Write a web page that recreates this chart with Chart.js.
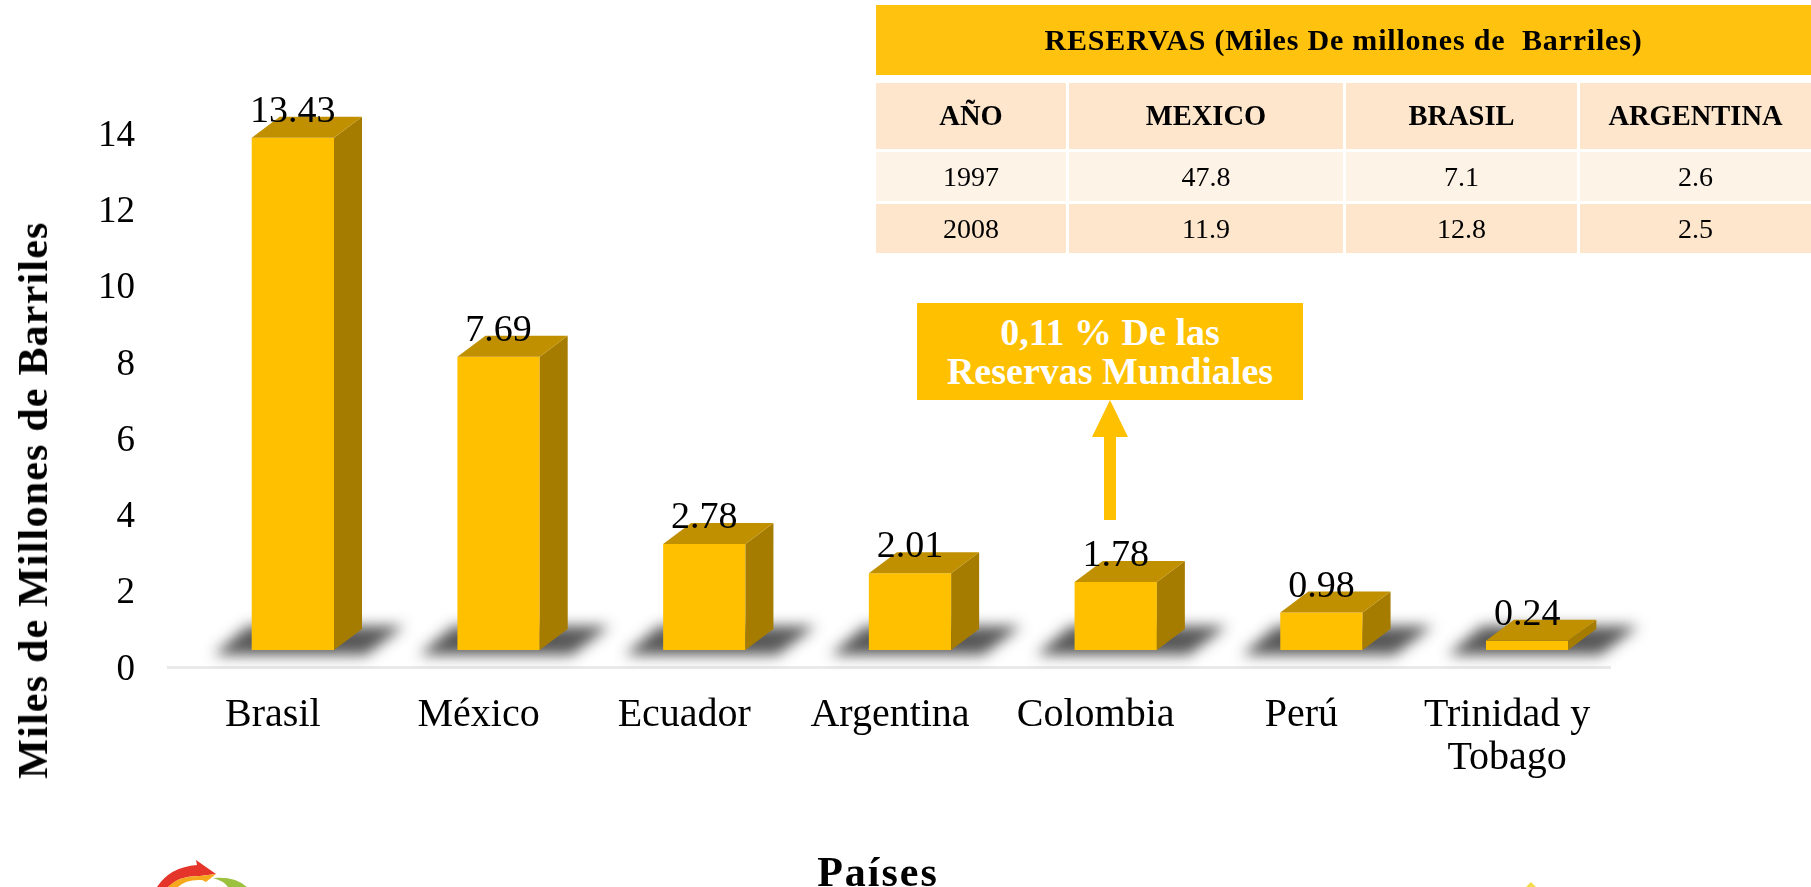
<!DOCTYPE html>
<html>
<head>
<meta charset="utf-8">
<style>
    html, body { margin: 0; padding: 0; background: #fff; overflow: hidden; }
    body { width: 1811px; height: 887px; position: relative; font-family: "Liberation Serif", serif; color: #000; }
    canvas { position: absolute; left: 0; top: 0; }
    .label { position: absolute; font-weight: bold; white-space: nowrap; }
    #yTitle { left: 33px; top: 500px; font-size: 42px; letter-spacing: 1.2px; transform: translate(-50%, -50%) rotate(-90deg); }
    #xTitle { left: 878px; top: 872px; font-size: 42px; letter-spacing: 2px; transform: translate(-50%, -50%); }
    #callout { position: absolute; left: 917px; top: 303px; width: 386px; height: 97px; background: #FFC000; color: #fff; font-weight: bold; font-size: 38px; line-height: 39px; text-align: center; display: flex; align-items: center; justify-content: center; }
    #arrow { position: absolute; left: 1092px; top: 400px; }
    #logoA { position: absolute; left: 150px; top: 855px; }
    #logoB { position: absolute; left: 1510px; top: 875px; }
    #reservas { position: absolute; left: 876px; top: 5px; width: 935px; border-collapse: separate; border-spacing: 0; table-layout: fixed; }
    #reservas td, #reservas th { padding: 0; text-align: center; border-left: 3px solid #fff; border-top: 3px solid #fff; }
    #reservas tr > :first-child { border-left: 0; }
    #reservas .head { background: #FFC20E; height: 70px; font-size: 30px; letter-spacing: 0.8px; border-top: 0; }
    #reservas .spacer td { height: 5px; border: 0; }
    #reservas .cols th { background: #FDE6CC; height: 66px; font-size: 28.5px; }
    #reservas .odd td { background: #FEF3E7; height: 49px; font-size: 28px; }
    #reservas .even td { background: #FDE6CC; height: 49px; font-size: 28px; }
</style>
</head>
<body>
<canvas id="reservesChart" width="1811" height="887"></canvas>

<div class="label" id="yTitle">Miles de Millones de Barriles</div>
<div class="label" id="xTitle">Países</div>

<table id="reservas"></table>

<div id="callout"><div>0,11 % De las<br>Reservas Mundiales</div></div>
<svg id="arrow" width="36" height="120"><path d="M18 0 L36 37 L24 37 L24 120 L12 120 L12 37 L0 37 Z" fill="#FFC000"/></svg>

<svg id="logoA" width="110" height="32">
    <path d="M7 32 Q20 12 47 10 L46 5 L66 19 L50 21 Q30 20 18 32 Z" fill="#E5352B"/>
    <path d="M18 32 Q28 21 50 21 L66 19 L56 27 L52 25 Q36 24 28 32 Z" fill="#F6A81C"/>
    <path d="M63 23 Q85 21 97 32 L78 32 Q74 26 63 23 Z" fill="#9CC13F"/>
</svg>
<svg id="logoB" width="40" height="12"><path d="M21 7 L26 12 L16 12 Z" fill="#F5DC4A"/></svg>

<script src="https://cdn.jsdelivr.net/npm/chart.js@4/dist/chart.umd.min.js"></script>
<script>
// Chart data
const countries = ['Brasil', 'México', 'Ecuador', 'Argentina', 'Colombia', 'Perú', ['Trinidad y', 'Tobago']];
const reserves = [13.43, 7.69, 2.78, 2.01, 1.78, 0.98, 0.24];
const valueLabels = ['13.43', '7.69', '2.78', '2.01', '1.78', '0.98', '0.24'];
const yTicks = [0, 2, 4, 6, 8, 10, 12, 14];

// Table data
const tableTitle = 'RESERVAS (Miles De millones de  Barriles)';
const tableColumns = ['AÑO', 'MEXICO', 'BRASIL', 'ARGENTINA'];
const years = ['1997', '2008'];
const mexicoReserves = ['47.8', '11.9'];
const brasilReserves = ['7.1', '12.8'];
const argentinaReserves = ['2.6', '2.5'];

const FRONT = '#FFC000';
const TOP = '#C09000';
const SIDE = '#A67C00';
const DEPTH_X = 28;
const DEPTH_Y = 21;
const FLOOR_GAP = 17;
const serif = '"Liberation Serif", serif';

// Build the table
function buildTable() {
    const widths = [190, 277, 234, 234];
    let html = '<colgroup>' + widths.map(w => `<col style="width:${w}px">`).join('') + '</colgroup>';
    html += `<tr><th class="head" colspan="4" style="white-space:pre">${tableTitle}</th></tr>`;
    html += '<tr class="spacer"><td colspan="4"></td></tr>';
    html += '<tr class="cols">' + tableColumns.map(c => `<th>${c}</th>`).join('') + '</tr>';
    years.forEach((y, i) => {
        html += `<tr class="${i % 2 ? 'even' : 'odd'}"><td>${y}</td><td>${mexicoReserves[i]}</td><td>${brasilReserves[i]}</td><td>${argentinaReserves[i]}</td></tr>`;
    });
    document.getElementById('reservas').innerHTML = html;
}

// Blurred floor shadow behind each bar, plus the floor line
const floorPlugin = {
    id: 'floor',
    beforeDatasetsDraw(chart) {
        const { ctx, chartArea, scales } = chart;
        const floorY = scales.y.getPixelForValue(0) + FLOOR_GAP;
        ctx.save();
        ctx.fillStyle = '#EAEAEA';
        ctx.fillRect(chartArea.left - 23, floorY - 1, chartArea.right - chartArea.left + 4, 3);
        chart.getDatasetMeta(0).data.forEach(bar => {
            const left = bar.x - bar.width / 2;
            const right = bar.x + bar.width / 2;
            const bottom = bar.base + 5;
            ctx.save();
            ctx.shadowColor = 'rgba(70,70,70,0.9)';
            ctx.shadowBlur = 14;
            ctx.shadowOffsetX = 3000;
            ctx.fillStyle = '#000';
            ctx.beginPath();
            ctx.moveTo(left - 38 - 3000, bottom);
            ctx.lineTo(left - 4 - 3000, bottom - 29);
            ctx.lineTo(right + 70 - 3000, bottom - 29);
            ctx.lineTo(right + 32 - 3000, bottom);
            ctx.closePath();
            ctx.fill();
            ctx.restore();
        });
        ctx.restore();
    }
};

// Side and top faces of the bars, and the value labels
const bar3dPlugin = {
    id: 'bar3d',
    afterDatasetsDraw(chart) {
        const { ctx } = chart;
        const bars = chart.getDatasetMeta(0).data;
        ctx.save();
        bars.forEach(bar => {
            const left = bar.x - bar.width / 2;
            const right = bar.x + bar.width / 2;
            ctx.fillStyle = SIDE;
            ctx.beginPath();
            ctx.moveTo(right, bar.y);
            ctx.lineTo(right + DEPTH_X, bar.y - DEPTH_Y);
            ctx.lineTo(right + DEPTH_X, bar.base - DEPTH_Y);
            ctx.lineTo(right, bar.base);
            ctx.closePath();
            ctx.fill();
            ctx.fillStyle = TOP;
            ctx.beginPath();
            ctx.moveTo(left, bar.y);
            ctx.lineTo(left + DEPTH_X, bar.y - DEPTH_Y);
            ctx.lineTo(right + DEPTH_X, bar.y - DEPTH_Y);
            ctx.lineTo(right, bar.y);
            ctx.closePath();
            ctx.fill();
        });
        ctx.fillStyle = '#000';
        ctx.font = '38px ' + serif;
        ctx.textAlign = 'center';
        ctx.textBaseline = 'middle';
        bars.forEach((bar, i) => {
            ctx.fillText(valueLabels[i], bar.x, bar.y - 26);
        });
        ctx.restore();
    }
};

function initChart() {
    new Chart(document.getElementById('reservesChart').getContext('2d'), {
        type: 'bar',
        data: {
            labels: countries,
            datasets: [{
                data: reserves,
                backgroundColor: FRONT,
                barPercentage: 0.4,
                categoryPercentage: 1
            }]
        },
        plugins: [floorPlugin, bar3dPlugin],
        options: {
            responsive: false,
            animation: false,
            layout: { padding: { left: 0, right: 181, top: 116, bottom: 0 } },
            plugins: { legend: { display: false }, tooltip: { enabled: false } },
            scales: {
                x: {
                    afterFit(axis) {
                        axis.height = 237;
                    },
                    grid: { display: false },
                    border: { display: false },
                    ticks: {
                        color: '#000',
                        font: { family: serif, size: 40, lineHeight: 1.08 },
                        maxRotation: 0,
                        autoSkip: false,
                        labelOffset: -20,
                        padding: 36
                    }
                },
                y: {
                    min: 0,
                    max: 14,
                    afterBuildTicks(axis) {
                        axis.ticks = yTicks.map(v => ({ value: v }));
                    },
                    afterFit(axis) {
                        axis.width = 190;
                    },
                    grid: { display: false },
                    border: { display: false },
                    ticks: {
                        color: '#000',
                        font: { family: serif, size: 37 },
                        labelOffset: 20,
                        padding: 47
                    }
                }
            }
        }
    });
}

buildTable();
initChart();
</script>
</body>
</html>
